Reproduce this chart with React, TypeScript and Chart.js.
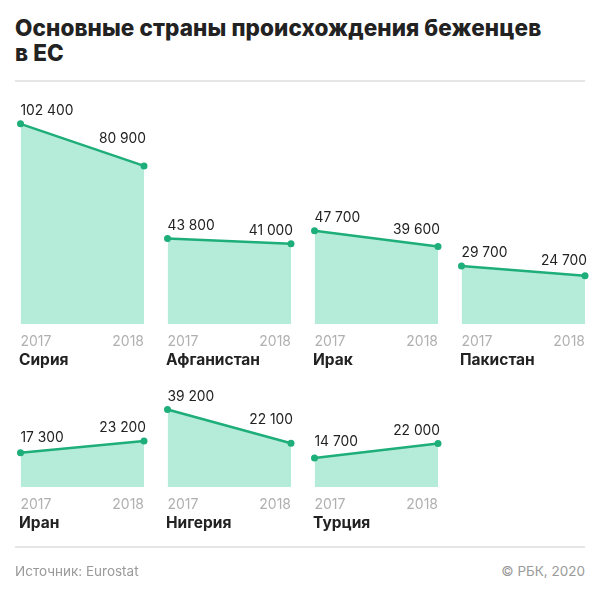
import React, { useEffect, useRef } from "react";
import { Chart, registerables } from "chart.js";

Chart.register(...registerables);

const titleLines = ["Основные страны происхождения беженцев", "в ЕС"];
const years = ["2017", "2018"];
const countries = ["Сирия", "Афганистан", "Ирак", "Пакистан", "Иран", "Нигерия", "Турция"];
const values2017 = [102400, 43800, 47700, 29700, 17300, 39200, 14700];
const values2018 = [80900, 41000, 39600, 24700, 23200, 22100, 22000];
const rowOf = [0, 0, 0, 0, 1, 1, 1];
const colOf = [0, 1, 2, 3, 0, 1, 2];
const rowMax = [110000, 45000];
const sourceText = "Источник: Eurostat";
const copyrightText = "© РБК, 2020";

const FONT = "Inter, 'Noto Sans', sans-serif";
const LINE = "#1dae79";
const FILL = "#b5ebd9";

// layout
const PLOT_LEFT0 = 19;
const COL_STEP = 147;
const PLOT_W = 125;
const ROW_BOTTOM = [324.3, 486.7];
const PX_PER_UNIT = [0.001957, 0.00198];
const PAD_L = 8;
const PAD_R = 12;
const PAD_T = 34;
const TICK_PAD = 9.5;
const TICK_FONT = 14;
const AXIS_H = 28;

const fmt = (v: number) => String(v).replace(/\B(?=(\d{3})+(?!\d))/g, " ");

const labelPlugin = {
  id: "valueLabels",
  afterDatasetsDraw(chart: any) {
    const ctx = chart.ctx;
    const meta = chart.getDatasetMeta(0);
    const ds = chart.data.datasets[0];
    const p0 = meta.data[0];
    const p1 = meta.data[1];
    const lineY = (x: number) => p0.y + ((p1.y - p0.y) * (x - p0.x)) / (p1.x - p0.x);
    ctx.save();
    ctx.font = `400 13.8px ${FONT}`;
    ctx.fillStyle = "#222";
    ctx.textBaseline = "middle";
    meta.data.forEach((pt: any, i: number) => {
      const txt = fmt(ds.data[i]);
      const w = ctx.measureText(txt).width;
      let y: number;
      if (i === 0) {
        ctx.textAlign = "left";
        y = Math.min(pt.y - 13, lineY(pt.x + w) - 11);
        ctx.fillText(txt, pt.x, y);
      } else {
        ctx.textAlign = "right";
        y = Math.min(pt.y - 13, lineY(pt.x - w) - 11);
        ctx.fillText(txt, pt.x + 2, y);
      }
    });
    ctx.restore();
  },
};

function Panel({ idx }: { idx: number }) {
  const ref = useRef<HTMLCanvasElement>(null);
  const row = rowOf[idx];
  const col = colOf[idx];
  const plotH = rowMax[row] * PX_PER_UNIT[row];
  const plotLeft = PLOT_LEFT0 + col * COL_STEP;
  const plotTop = ROW_BOTTOM[row] - plotH;
  const cw = PLOT_W + PAD_L + PAD_R;
  const ch = PAD_T + plotH + AXIS_H;

  useEffect(() => {
    if (!ref.current) return;
    const chart = new Chart(ref.current, {
      type: "line",
      data: {
        labels: years,
        datasets: [
          {
            data: [values2017[idx], values2018[idx]],
            borderColor: LINE,
            borderWidth: 2.5,
            backgroundColor: FILL,
            fill: "origin",
            pointRadius: 3.5,
            pointBackgroundColor: LINE,
            pointBorderWidth: 0,
            tension: 0,
          },
        ],
      },
      options: {
        animation: false,
        responsive: false,
        maintainAspectRatio: false,
        events: [],
        layout: { padding: { left: PAD_L, right: PAD_R, top: PAD_T, bottom: 0 } },
        plugins: { legend: { display: false }, tooltip: { enabled: false } },
        scales: {
          x: {
            offset: false,
            grid: { display: false, drawTicks: false },
            border: { display: false },
            afterFit: (scale: any) => {
              scale.height = AXIS_H;
            },
            ticks: {
              align: "inner",
              padding: TICK_PAD,
              color: "#b0b0b0",
              font: { family: FONT, size: TICK_FONT, weight: "400" },
              maxRotation: 0,
              autoSkip: false,
            },
          },
          y: {
            display: false,
            min: 0,
            max: rowMax[row],
          },
        },
      },
      plugins: [labelPlugin],
    } as any);
    return () => chart.destroy();
  }, [idx]);

  return (
    <>
      <canvas
        ref={ref}
        width={cw}
        height={ch}
        style={{
          position: "absolute",
          left: plotLeft - PAD_L,
          top: plotTop - PAD_T,
          width: cw,
          height: ch,
        }}
      />
      <div
        style={{
          position: "absolute",
          left: plotLeft,
          top: ROW_BOTTOM[row] + 37 - 11,
          height: 22,
          lineHeight: "22px",
          font: `700 15.5px ${FONT}`,
          color: "#222",
          whiteSpace: "nowrap",
        }}
      >
        {countries[idx]}
      </div>
    </>
  );
}

export default function App() {
  return (
    <div
      style={{
        position: "absolute",
        left: 0,
        top: 0,
        width: 600,
        height: 600,
        background: "#fff",
        overflow: "hidden",
        fontFamily: FONT,
      }}
    >
      <div
        style={{
          position: "absolute",
          left: 15,
          top: 15,
          font: `800 22.5px ${FONT}`,
          lineHeight: "25px",
          color: "#222",
          letterSpacing: "0.1px",
        }}
      >
        {titleLines.map((l, i) => (
          <div key={i} style={{ whiteSpace: "nowrap" }}>
            {l}
          </div>
        ))}
      </div>
      <div style={{ position: "absolute", left: 15, top: 80, width: 570, height: 1.5, background: "#e6e6e6" }} />
      {countries.map((_, i) => (
        <Panel key={i} idx={i} />
      ))}
      <div style={{ position: "absolute", left: 15, top: 546, width: 570, height: 1.5, background: "#e6e6e6" }} />
      <div
        style={{
          position: "absolute",
          left: 15,
          top: 563,
          lineHeight: "20px",
          font: `400 13.5px ${FONT}`,
          color: "#9a9a9a",
        }}
      >
        {sourceText}
      </div>
      <div
        style={{
          position: "absolute",
          right: 15,
          top: 563,
          lineHeight: "20px",
          font: `400 13.5px ${FONT}`,
          color: "#9a9a9a",
        }}
      >
        {copyrightText}
      </div>
    </div>
  );
}
